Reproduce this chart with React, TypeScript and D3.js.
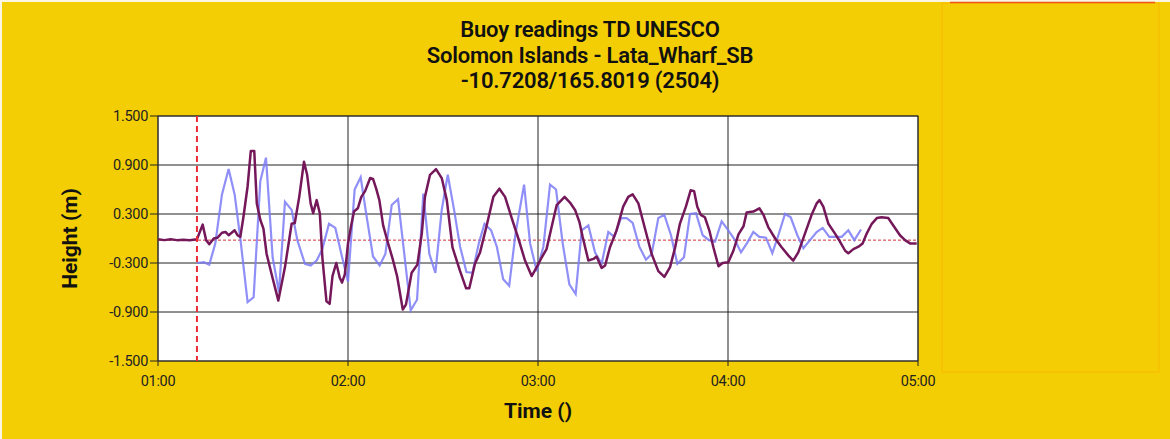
import React from 'react';
import * as d3 from 'd3';

// readings, minutes after 01:00 -> height (m)
const purpleSeries: [number, number][] = [
  [0, -0.01], [2, -0.02], [4, -0.01], [6, -0.02], [8, -0.015], [10, -0.02], [12.3, -0.01],
  [14.1, 0.17], [15.2, -0.02], [16.2, -0.07], [17.6, 0.0], [18.8, 0.01], [20.2, 0.07], [21.3, 0.08],
  [22.3, 0.04], [24.2, 0.1], [25.1, 0.04], [26.0, 0.02], [27.0, 0.27], [28.3, 0.64], [29.3, 1.07],
  [30.4, 1.07], [31.2, 0.43], [32.3, 0.23], [33.3, 0.12], [34.3, -0.19], [35.9, -0.44], [38.0, -0.76],
  [40.1, -0.35], [42.2, 0.18], [43.2, 0.19], [44.6, 0.51], [46.1, 0.94], [47.1, 0.78], [48.2, 0.43],
  [49.0, 0.31], [50.1, 0.47], [51.1, 0.31], [51.9, -0.23], [53.2, -0.77], [54.2, -0.8], [55.1, -0.46],
  [56.3, -0.3], [57.4, -0.48], [58.1, -0.54], [59.0, -0.44], [60.0, -0.06], [61.0, 0.16], [61.9, 0.33],
  [63.1, 0.37], [64.2, 0.51], [65.4, 0.58], [67.0, 0.74], [67.9, 0.73], [68.9, 0.61], [69.9, 0.47],
  [71.1, 0.16], [72.6, -0.05], [74.1, -0.25], [75.5, -0.46], [77.3, -0.87], [78.3, -0.81], [80.1, -0.42],
  [81.9, -0.32], [83.3, 0.06], [84.3, 0.51], [85.9, 0.78], [87.8, 0.85], [89.6, 0.74], [91.2, 0.47],
  [93.0, -0.11], [95.4, -0.4], [97.3, -0.61], [98.3, -0.61], [100.1, -0.31], [101.7, -0.17], [103.8, 0.16],
  [105.9, 0.51], [107.8, 0.61], [109.6, 0.51], [111.7, 0.25], [113.8, 0.0], [115.9, -0.27], [118.0, -0.46],
  [119.6, -0.35], [121.2, -0.23], [122.7, -0.13], [124.3, 0.14], [125.9, 0.41], [128.4, 0.51], [130.1, 0.44],
  [131.7, 0.35], [133.1, 0.2], [134.1, 0.02], [135.9, -0.27], [137.5, -0.25], [138.5, -0.22], [140.1, -0.36],
  [141.2, -0.33], [142.7, -0.11], [144.8, 0.1], [146.9, 0.39], [148.5, 0.51], [149.9, 0.54], [151.7, 0.43],
  [153.8, 0.12], [155.9, -0.19], [158.0, -0.4], [159.9, -0.47], [161.7, -0.35], [163.3, -0.11], [164.8, 0.18],
  [166.7, 0.39], [168.2, 0.59], [169.3, 0.58], [170.3, 0.39], [171.4, 0.29], [172.7, 0.26], [174.1, 0.1],
  [175.4, -0.11], [177.0, -0.34], [178.3, -0.3], [180.1, -0.29], [181.7, -0.15], [183.3, 0.05], [184.9, 0.15],
  [185.9, 0.32], [188.0, 0.33], [189.9, 0.37], [191.2, 0.29], [192.7, 0.14], [194.9, 0.0], [197.0, -0.11],
  [199.1, -0.21], [200.6, -0.27], [202.2, -0.17], [204.3, 0.06], [206.4, 0.29], [208.0, 0.43], [208.9, 0.47],
  [210.1, 0.39], [211.7, 0.18], [213.8, 0.06], [215.4, -0.04], [217.0, -0.15], [218.0, -0.18], [219.6, -0.13],
  [221.2, -0.1], [222.5, -0.06], [223.8, 0.06], [225.4, 0.18], [227.0, 0.25], [228.5, 0.26], [230.6, 0.25],
  [232.2, 0.16], [234.3, 0.04], [235.9, -0.02], [237.5, -0.06], [239.6, -0.06],
];

const blueSeries: [number, number][] = [
  [12.4, -0.3], [14.5, -0.29], [16.2, -0.32], [18.1, -0.06], [20.2, 0.54], [22.3, 0.85], [24.2, 0.54],
  [26.0, 0.0], [28.3, -0.78], [30.2, -0.72], [32.3, 0.7], [34.1, 0.99], [36.2, -0.23], [38.2, -0.66],
  [40.1, 0.45], [42.2, 0.35], [44.0, -0.02], [46.4, -0.31], [48.2, -0.33], [50.1, -0.27], [51.9, -0.13],
  [54.0, 0.18], [56.0, 0.13], [57.9, -0.19], [60.0, -0.53], [62.1, 0.6], [64.0, 0.75], [65.8, 0.29],
  [67.9, -0.22], [70.0, -0.33], [71.8, -0.19], [73.8, 0.41], [75.8, 0.48], [77.9, -0.23], [79.8, -0.88],
  [81.8, -0.75], [83.8, 0.55], [85.7, -0.19], [87.6, -0.42], [89.6, 0.35], [91.5, 0.78], [93.5, 0.35],
  [95.4, -0.1], [97.4, -0.41], [99.3, -0.42], [101.3, -0.06], [103.1, 0.18], [105.2, 0.1], [107.0, -0.1],
  [109.0, -0.5], [110.9, -0.58], [112.9, 0.06], [115.6, 0.66], [117.5, -0.06], [119.6, -0.4], [121.7, -0.1],
  [123.8, 0.66], [125.7, 0.6], [127.8, -0.06], [129.9, -0.56], [131.9, -0.68], [133.8, 0.1], [135.9, 0.16],
  [138.0, -0.17], [140.1, -0.31], [142.2, 0.08], [144.1, 0.02], [146.2, 0.25], [148.0, 0.25], [149.9, 0.19],
  [152.0, -0.1], [154.1, -0.26], [155.9, -0.19], [158.0, 0.25], [159.9, 0.29], [162.0, 0.04], [164.0, -0.31],
  [166.1, -0.23], [168.0, 0.3], [169.9, 0.31], [172.0, 0.04], [174.0, -0.02], [175.9, -0.04], [178.0, 0.21],
  [180.1, 0.1], [182.2, -0.02], [184.1, -0.17], [186.1, -0.05], [188.0, 0.08], [189.9, 0.02], [192.0, 0.01],
  [194.0, -0.18], [195.9, 0.04], [198.0, 0.3], [199.8, 0.26], [201.9, 0.04], [203.8, -0.12], [205.9, -0.02],
  [208.0, 0.08], [209.9, 0.13], [212.0, 0.02], [214.0, 0.02], [215.9, 0.02], [218.0, 0.1], [219.9, -0.02],
  [222.0, 0.11],
];

const yTicks = [1.5, 0.9, 0.3, -0.3, -0.9, -1.5];
const xTicks = [0, 60, 120, 180, 240];
const xTickLabels = ['01:00', '02:00', '03:00', '04:00', '05:00'];
const titleLines = ['Buoy readings TD UNESCO', 'Solomon Islands - Lata_Wharf_SB', '-10.7208/165.8019 (2504)'];
const eventMinute = 12.3;
const baseline = -0.02;

const W = 1170;
const H = 439;
const margin = { left: 158, right: 252, top: 116, bottom: 78 };
const font = 'Roboto, "Liberation Sans", sans-serif';

export default function App() {
  const x = d3.scaleLinear().domain([0, 240]).range([margin.left, W - margin.right]);
  const y = d3.scaleLinear().domain([-1.5, 1.5]).range([H - margin.bottom, margin.top]);
  const line = d3.line<[number, number]>().x((d) => x(d[0])).y((d) => y(d[1]));

  const [x0, x1] = x.range();
  const [yb, yt] = y.range();

  return (
    <svg width={W} height={H} style={{ position: 'absolute', left: 0, top: 0, display: 'block' }}>
      <rect x={0} y={0} width={W} height={H} fill="#fbf6e2" />
      <rect x={2} y={2} width={W - 2} height={H - 2} fill="#f4ce05" />

      {/* empty legend panel */}
      <rect x={942} y={3} width={217} height={369} fill="#f4cd04" stroke="#f9b800" strokeWidth={1} />
      <line x1={950} x2={1155} y1={2.5} y2={2.5} stroke="#f0561a" strokeWidth={1.5} />

      {titleLines.map((t, i) => (
        <text key={t} x={590} y={37 + i * 25.5} textAnchor="middle" fontFamily={font} fontWeight={600}
          fontSize={22} fill="#111" letterSpacing={-0.2}>{t}</text>
      ))}

      <rect x={x0} y={yt} width={x1 - x0} height={yb - yt} fill="#ffffff" />

      {/* grid */}
      {yTicks.map((v) => (
        <g key={v}>
          <line x1={x0 - 8} x2={x1} y1={y(v)} y2={y(v)} stroke="#222" strokeWidth={1} />
          <text x={x0 - 10} y={y(v) + 5} textAnchor="end" fontFamily={font} fontSize={14.5} fill="#222"
            letterSpacing={-0.3}>
            {v.toFixed(3)}
          </text>
        </g>
      ))}
      {xTicks.map((v, i) => (
        <g key={v}>
          <line x1={x(v)} x2={x(v)} y1={yt} y2={yb + 5} stroke="#222" strokeWidth={1} />
          <text x={x(v)} y={yb + 25} textAnchor="middle" fontFamily={font} fontSize={14.5} fill="#222"
            letterSpacing={-0.3}>
            {xTickLabels[i]}
          </text>
        </g>
      ))}
      <rect x={x0} y={yt} width={x1 - x0} height={yb - yt} fill="none" stroke="#333" strokeWidth={1} />

      <line x1={x0} x2={x1} y1={y(baseline)} y2={y(baseline)} stroke="#d0303a" strokeWidth={1}
        strokeDasharray="3,2" />

      <path d={line(blueSeries) ?? ''} fill="none" stroke="#7b7bf6" strokeOpacity={0.85} strokeWidth={2.2} />
      <path d={line(purpleSeries) ?? ''} fill="none" stroke="#75185a" strokeWidth={2.5}
        strokeLinejoin="round" />

      <line x1={x(eventMinute)} x2={x(eventMinute)} y1={yt} y2={yb} stroke="#ee2a36" strokeWidth={2}
        strokeDasharray="6,4" />

      <text x={(x0 + x1) / 2} y={418} textAnchor="middle" fontFamily={font} fontWeight={700} fontSize={21}
        fill="#111">Time ()</text>
      <text transform={`translate(77,${(yt + yb) / 2}) rotate(-90)`} textAnchor="middle" fontFamily={font}
        fontWeight={700} fontSize={21} fill="#111">Height (m)</text>
    </svg>
  );
}
